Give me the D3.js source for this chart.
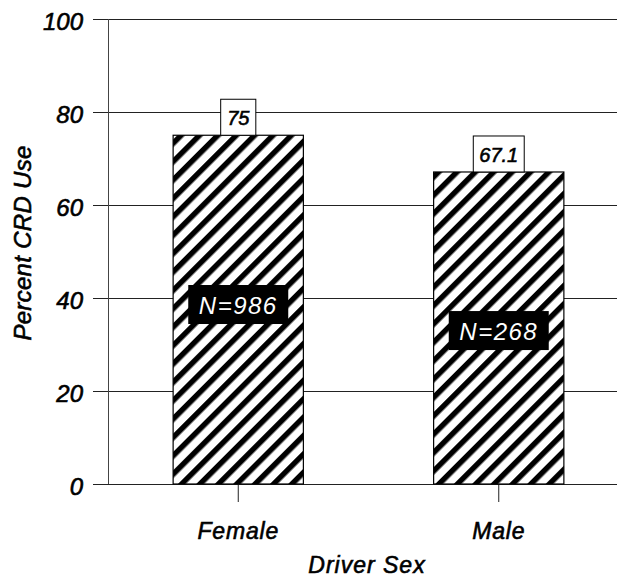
<!DOCTYPE html>
<html>
<head>
<meta charset="utf-8">
<script src="https://cdn.jsdelivr.net/npm/d3@7"></script>
<style>
  html, body { margin: 0; padding: 0; background: #fff; }
  svg { display: block; }
  text { font-family: "Liberation Sans", Arial, sans-serif; font-style: italic; fill: #000; }
  text.dark { stroke: #000; stroke-width: 0.6px; }
</style>
</head>
<body>
<svg id="chart" width="617" height="583"></svg>
<script>
// ---- data ----
const categories = ["Female", "Male"];
const percentUse = [75, 67.1];
const valueLabels = ["75", "67.1"];
const sampleLabels = ["N=986", "N=268"];
const sampleLabelLevel = [38.6, 33.0];
const yTicks = [0, 20, 40, 60, 80, 100];
const yTitle = "Percent CRD Use";
const xTitle = "Driver Sex";

// ---- drawing ----
const W = 617, H = 583;
const svg = d3.select("#chart");

const y = d3.scaleLinear().domain([0, 100]).range([484, 19]);
const x = d3.scaleBand().domain(categories).range([108, 629]).paddingInner(0.5).paddingOuter(0.25);

// hatch pattern
const defs = svg.append("defs");
const pat = defs.append("pattern")
  .attr("id", "hatch")
  .attr("patternUnits", "userSpaceOnUse")
  .attr("width", 13).attr("height", 13)
  .attr("patternTransform", "rotate(45)");
pat.append("rect").attr("width", 13).attr("height", 13).attr("fill", "#fff");
pat.append("rect").attr("x", 0).attr("width", 5.5).attr("height", 13).attr("fill", "#000");

// gridlines + y tick labels
const yAxis = d3.axisLeft(y).tickValues(yTicks).tickSizeInner(-(W - 93)).tickSizeOuter(0).tickPadding(10)
  .tickFormat(d3.format("d"));
const gy = svg.append("g").attr("transform", "translate(93,0)").call(yAxis);
gy.select(".domain").remove();
gy.selectAll(".tick line").attr("stroke", "#222").attr("stroke-width", 1);
gy.selectAll(".tick text").attr("class", "dark").attr("font-size", 24).attr("font-family", null).attr("dy", "0.42em");

// vertical axis line
svg.append("line")
  .attr("x1", 108.5).attr("x2", 108.5)
  .attr("y1", y(100)).attr("y2", y(0))
  .attr("stroke", "#444").attr("stroke-width", 1);

// x axis ticks and labels
const xAxis = d3.axisBottom(x).tickSizeInner(18).tickSizeOuter(0).tickPadding(21);
const gx = svg.append("g").attr("transform", `translate(0,${y(0)})`).call(xAxis);
gx.select(".domain").remove();
gx.selectAll(".tick line").attr("stroke", "#222");
gx.selectAll(".tick text").attr("class", "dark").attr("font-size", 23).attr("font-family", null).attr("letter-spacing", "0.8px");

// bars
const bars = svg.append("g");
categories.forEach((c, i) => {
  bars.append("rect")
    .attr("x", x(c)).attr("y", y(percentUse[i]))
    .attr("width", x.bandwidth()).attr("height", y(0) - y(percentUse[i]))
    .attr("fill", "url(#hatch)")
    .attr("stroke", "#000").attr("stroke-width", 1.2);
});

// value labels (boxes above bars)
categories.forEach((c, i) => {
  const cx = x(c) + x.bandwidth() / 2;
  const top = y(percentUse[i]);
  const g = svg.append("g");
  const t = g.append("text")
    .attr("class", "dark")
    .attr("x", cx).attr("y", top - 10)
    .attr("text-anchor", "middle")
    .attr("font-size", 20)
    .text(valueLabels[i]);
  const bb = t.node().getBBox();
  g.insert("rect", "text")
    .attr("x", cx - bb.width / 2 - 6).attr("y", top - 36)
    .attr("width", bb.width + 12).attr("height", 36)
    .attr("fill", "#fff").attr("stroke", "#000").attr("stroke-width", 1);
});

// sample size labels (black boxes)
categories.forEach((c, i) => {
  const cx = x(c) + x.bandwidth() / 2;
  const cy = y(sampleLabelLevel[i]);
  const g = svg.append("g");
  g.append("text")
    .attr("x", cx).attr("y", cy + 9)
    .attr("text-anchor", "middle")
    .attr("font-size", 24)
    .attr("letter-spacing", "1.5px")
    .style("fill", "#fff")
    .text(sampleLabels[i]);
  g.insert("rect", "text")
    .attr("x", cx - 50).attr("y", cy - 19.5)
    .attr("width", 100).attr("height", 39)
    .attr("fill", "#000");
});

// axis titles
svg.append("text")
  .attr("class", "dark")
  .attr("transform", `translate(31,243) rotate(-90)`)
  .attr("text-anchor", "middle")
  .attr("font-size", 24)
  .attr("letter-spacing", "0.3px")
  .text(yTitle);

svg.append("text")
  .attr("class", "dark")
  .attr("x", 367).attr("y", 573)
  .attr("text-anchor", "middle")
  .attr("font-size", 23)
  .attr("letter-spacing", "1px")
  .text(xTitle);
</script>
</body>
</html>
